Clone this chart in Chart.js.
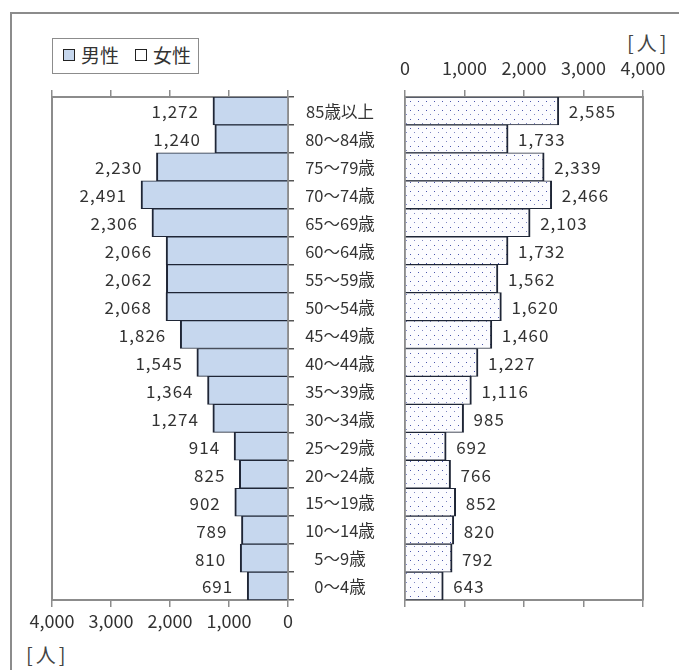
<!DOCTYPE html>
<html>
<head>
<meta charset="utf-8">
<script src="https://cdn.jsdelivr.net/npm/chart.js@4.4.1/dist/chart.umd.min.js"></script>
<style>
body { margin: 0; background: #fff; overflow: hidden; font-family: 'Noto Sans CJK JP', sans-serif; color: #333; }
#wrap { position: relative; width: 679px; height: 670px; overflow: hidden; }
#frame { position: absolute; left: 10px; top: 12px; width: 720px; height: 720px; border: 2px solid #8c8c8c; }
canvas { position: absolute; top: 0; }
#male { left: 0; }
#female { left: 385px; }
#legend { position: absolute; left: 52px; top: 38px; width: 145px; height: 34px; border: 1px solid #8c8c8c; background: #fff; }
#legend span { position: absolute; font-size: 19px; line-height: 20px; top: 6px; }
#legend i { position: absolute; top: 10px; width: 10px; height: 10px; border: 1.5px solid #222; }
.unit { position: absolute; font-size: 20px; line-height: 20px; color: #444; letter-spacing: 3px; }
</style>
</head>
<body>
<div id="wrap">
  <div id="frame"></div>
  <div id="legend">
    <i style="left:10px;background:#c6d7ee"></i><span style="left:28px">男性</span>
    <i style="left:82px;background:#fff"></i><span style="left:100px">女性</span>
  </div>
  <div class="unit" style="left:627px;top:33px">[人]</div>
  <div class="unit" style="left:26px;top:645px">[人]</div>
  <canvas id="male" width="400" height="640"></canvas>
  <canvas id="female" width="294" height="640"></canvas>
</div>
<script>
var ages = ['85歳以上', '80～84歳', '75～79歳', '70～74歳', '65～69歳', '60～64歳', '55～59歳', '50～54歳', '45～49歳',
            '40～44歳', '35～39歳', '30～34歳', '25～29歳', '20～24歳', '15～19歳', '10～14歳', '5～9歳', '0～4歳'];
var maleValues = [1272, 1240, 2230, 2491, 2306, 2066, 2062, 2068, 1826, 1545, 1364, 1274, 914, 825, 902, 789, 810, 691];
var femaleValues = [2585, 1733, 2339, 2466, 2103, 1732, 1562, 1620, 1460, 1227, 1116, 985, 692, 766, 852, 820, 792, 643];
var axisMax = 4000;
var axisStep = 1000;

var fontFamily = "'Noto Sans CJK JP', sans-serif";
var axisColor = '#8c8c8c';
var textColor = '#333';

function fmt(v) {
    return Number(v).toLocaleString('en-US');
}

// dotted fill for the female bars
function dotPattern() {
    var c = document.createElement('canvas');
    c.width = 8; c.height = 9;
    var g = c.getContext('2d');
    g.fillStyle = '#fcfcff';
    g.fillRect(0, 0, 8, 9);
    g.fillStyle = '#4b56ad';
    g.fillRect(1, 2, 1, 1);
    g.fillStyle = '#7f87c2';
    g.fillRect(5, 6, 1, 1);
    return g.createPattern(c, 'repeat');
}

var valueLabels = {
    id: 'valueLabels',
    afterDatasetsDraw: function(chart, args, opts) {
        var ctx = chart.ctx;
        var meta = chart.getDatasetMeta(0);
        var data = chart.data.datasets[0].data;
        ctx.save();
        ctx.font = '17px ' + fontFamily;
        ctx.letterSpacing = '1px';
        ctx.fillStyle = textColor;
        ctx.textBaseline = 'middle';
        meta.data.forEach(function(bar, i) {
            if (opts.side == 'left') {
                ctx.textAlign = 'right';
                ctx.fillText(fmt(data[i]), bar.x - opts.gap, bar.y + 1);
            } else {
                ctx.textAlign = 'left';
                ctx.fillText(fmt(data[i]), bar.x + opts.gap, bar.y + 1);
            }
        });
        ctx.letterSpacing = '0px';
        if (opts.ageX) {
            ctx.textAlign = 'center';
            ctx.font = '16.5px ' + fontFamily;
            chart.data.labels.forEach(function(lab, i) {
                ctx.fillText(lab, opts.ageX, chart.scales.y.getPixelForValue(i) + 1);
            });
        }
        ctx.restore();
    }
};

function valueAxis(pos, reverse, showLabels, height) {
    return {
        position: pos,
        reverse: reverse,
        min: 0,
        max: axisMax,
        ticks: {
            display: showLabels,
            stepSize: axisStep,
            maxRotation: 0,
            padding: pos == 'top' ? 11 : 3,
            color: textColor,
            font: { family: fontFamily, size: 18 },
            callback: function(v) { return fmt(v); }
        },
        grid: { drawOnChartArea: false, tickLength: 7, color: axisColor, lineWidth: 1.5 },
        border: { color: axisColor, width: 2 },
        afterFit: function(s) { s.height = height; }
    };
}

function edgeAxis(pos, ticks) {
    return {
        type: 'category',
        position: pos,
        ticks: { display: false },
        grid: { display: ticks, drawOnChartArea: false, tickLength: 6, color: '#555', lineWidth: 1.5, offset: true },
        border: { color: axisColor, width: 2 },
        afterFit: function(s) { s.width = ticks ? 6 : 0; }
    };
}

var barBorder = { top: 1, bottom: 1, left: 2, right: 2 };

var maleChart = new Chart(document.getElementById('male'), {
    type: 'bar',
    data: {
        labels: ages,
        datasets: [{
            label: '男性',
            data: maleValues,
            backgroundColor: '#c6d7ee',
            borderColor: '#1f2636',
            borderWidth: barBorder,
            borderSkipped: 'start',
            barPercentage: 1,
            categoryPercentage: 1
        }]
    },
    options: {
        indexAxis: 'y',
        responsive: false,
        animation: false,
        layout: { padding: { left: 52, right: 106, top: 90, bottom: 0 } },
        plugins: {
            legend: { display: false },
            tooltip: { enabled: false },
            valueLabels: { side: 'left', gap: 14, ageX: 340 }
        },
        scales: {
            x: valueAxis('bottom', true, true, 40),
            xt: valueAxis('top', true, false, 7),
            y: edgeAxis('right', true),
            yl: edgeAxis('left', false)
        }
    },
    plugins: [valueLabels]
});

var femaleChart = new Chart(document.getElementById('female'), {
    type: 'bar',
    data: {
        labels: ages,
        datasets: [{
            label: '女性',
            data: femaleValues,
            backgroundColor: dotPattern(),
            borderColor: '#1f2636',
            borderWidth: barBorder,
            borderSkipped: 'start',
            barPercentage: 1,
            categoryPercentage: 1
        }]
    },
    options: {
        indexAxis: 'y',
        responsive: false,
        animation: false,
        layout: { padding: { left: 20, right: 36, top: 57, bottom: 33 } },
        plugins: {
            legend: { display: false },
            tooltip: { enabled: false },
            valueLabels: { side: 'right', gap: 10 }
        },
        scales: {
            x: valueAxis('top', false, true, 40),
            xb: valueAxis('bottom', false, false, 7),
            y: edgeAxis('left', false),
            yr: edgeAxis('right', false)
        }
    },
    plugins: [valueLabels]
});
</script>
</body>
</html>
